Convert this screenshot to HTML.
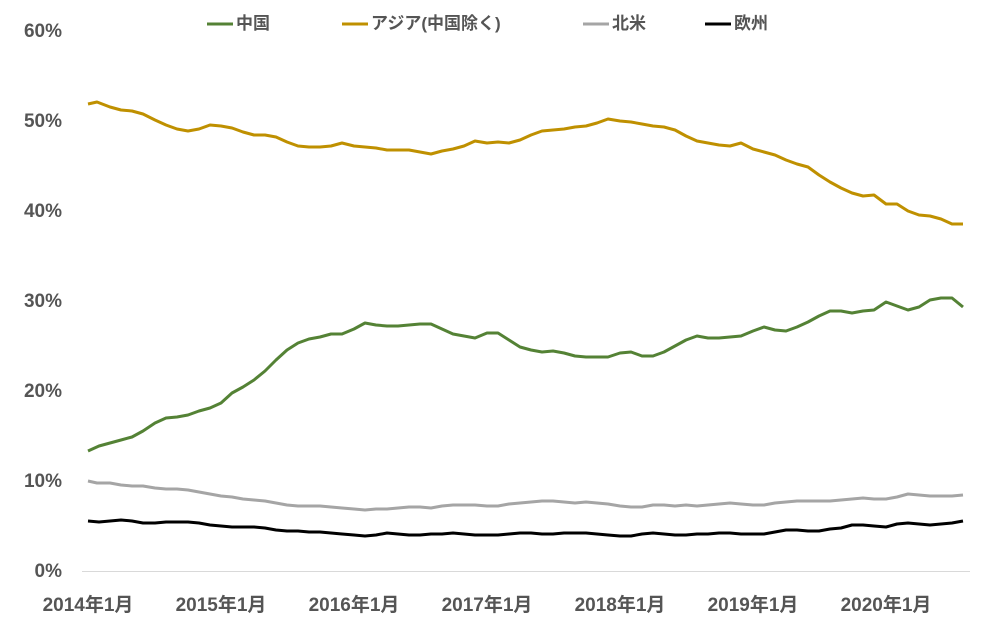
<!DOCTYPE html>
<html><head><meta charset="utf-8"><style>
body{margin:0;background:#fff;}
svg text{font-family:"Liberation Sans","Noto Sans CJK JP",sans-serif;font-weight:bold;fill:#555;}
</style></head><body>
<svg width="999" height="638" viewBox="0 0 999 638">
<line x1="82" y1="571.5" x2="970" y2="571.5" stroke="#d9d9d9" stroke-width="1"/>
<g font-size="19" text-anchor="end">
<text x="62" y="37">60%</text><text x="62" y="127">50%</text><text x="62" y="217">40%</text>
<text x="62" y="307">30%</text><text x="62" y="397">20%</text><text x="62" y="487">10%</text><text x="62" y="577">0%</text>
</g>
<g font-size="19" text-anchor="middle">
<text x="88" y="611">2014年1月</text><text x="221" y="611">2015年1月</text><text x="354" y="611">2016年1月</text>
<text x="487" y="611">2017年1月</text><text x="620" y="611">2018年1月</text><text x="753" y="611">2019年1月</text><text x="886" y="611">2020年1月</text>
</g>
<g font-size="17">
<line x1="207" y1="24" x2="233" y2="24" stroke="#548235" stroke-width="3"/><text x="236" y="29">中国</text>
<line x1="342" y1="24" x2="368" y2="24" stroke="#BF9000" stroke-width="3"/><text x="371" y="29">アジア(中国除く)</text>
<line x1="583" y1="24" x2="609" y2="24" stroke="#A5A5A5" stroke-width="3"/><text x="612" y="29">北米</text>
<line x1="705" y1="24" x2="731" y2="24" stroke="#000" stroke-width="3"/><text x="734" y="29">欧州</text>
</g>
<g fill="none" stroke-width="3" stroke-linejoin="round">
<polyline stroke="#BF9000" points="88,104 97,102 110,107 121,110 132,111 143,114 155,120 166,125 177,129 188,131 199,129 210,125 221,126 232,128 243,132 254,135 265,135 276,137 287,142 298,146 309,147 320,147 331,146 342,143 354,146 365,147 376,148 387,150 398,150 409,150 420,152 431,154 442,151 453,149 464,146 475,141 487,143 498,142 509,143 520,140 531,135 542,131 553,130 564,129 575,127 586,126 597,123 608,119 620,121 631,122 642,124 653,126 664,127 675,130 686,136 697,141 708,143 719,145 730,146 741,143 753,149 764,152 775,155 786,160 797,164 808,167 819,175 830,182 841,188 852,193 863,196 874,195 886,204 897,204 908,211 919,215 930,216 941,219 952,224 963,224"/>
<polyline stroke="#548235" points="88,451 99,446 110,443 121,440 132,437 143,431 155,423 166,418 177,417 188,415 199,411 210,408 221,403 232,393 243,387 254,380 265,371 276,360 287,350 298,343 309,339 320,337 331,334 342,334 354,329 365,323 376,325 387,326 398,326 409,325 420,324 431,324 442,329 453,334 464,336 475,338 487,333 498,333 509,340 520,347 531,350 542,352 553,351 564,353 575,356 586,357 597,357 608,357 620,353 631,352 642,356 653,356 664,352 675,346 686,340 697,336 708,338 719,338 730,337 741,336 753,331 764,327 775,330 786,331 797,327 808,322 819,316 830,311 841,311 852,313 863,311 874,310 886,302 897,306 908,310 919,307 930,300 941,298 952,298 963,307"/>
<polyline stroke="#A5A5A5" points="88,481 97,483 110,483 121,485 132,486 143,486 155,488 166,489 177,489 188,490 199,492 210,494 221,496 232,497 243,499 254,500 265,501 276,503 287,505 298,506 309,506 320,506 331,507 342,508 354,509 365,510 376,509 387,509 398,508 409,507 420,507 431,508 442,506 453,505 464,505 475,505 487,506 498,506 509,504 520,503 531,502 542,501 553,501 564,502 575,503 586,502 597,503 608,504 620,506 631,507 642,507 653,505 664,505 675,506 686,505 697,506 708,505 719,504 730,503 741,504 753,505 764,505 775,503 786,502 797,501 808,501 819,501 830,501 841,500 852,499 863,498 874,499 886,499 897,497 908,494 919,495 930,496 941,496 952,496 963,495"/>
<polyline stroke="#000" points="88,521 99,522 110,521 121,520 132,521 143,523 155,523 166,522 177,522 188,522 199,523 210,525 221,526 232,527 243,527 254,527 265,528 276,530 287,531 298,531 309,532 320,532 331,533 342,534 354,535 365,536 376,535 387,533 398,534 409,535 420,535 431,534 442,534 453,533 464,534 475,535 487,535 498,535 509,534 520,533 531,533 542,534 553,534 564,533 575,533 586,533 597,534 608,535 620,536 631,536 642,534 653,533 664,534 675,535 686,535 697,534 708,534 719,533 730,533 741,534 753,534 764,534 775,532 786,530 797,530 808,531 819,531 830,529 841,528 852,525 863,525 874,526 886,527 897,524 908,523 919,524 930,525 941,524 952,523 963,521"/>
</g>
</svg>
</body></html>
